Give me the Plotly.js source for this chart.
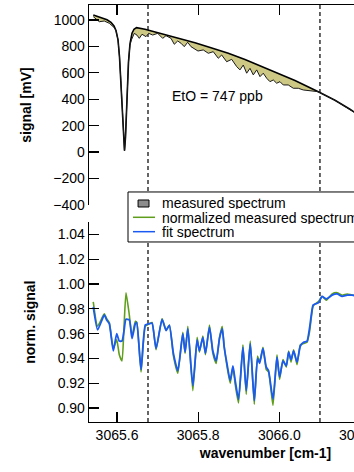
<!DOCTYPE html>
<html><head><meta charset="utf-8">
<script src="https://cdn.plot.ly/plotly-3.0.1.min.js"></script>
<style>
html,body{margin:0;padding:0;overflow:hidden;background:#fff;width:354px;height:472px}
#chart{width:452px;height:472px}
</style>
</head><body><div id="chart"></div>
<script>
// ---- top panel: raw signal [mV] ----
const fitBaseX = [3065.5416,3065.5581,3065.5754,3065.5852,3065.5926,3065.5975,3065.6025,3065.6062,3065.6099,3065.6136,3065.6160,3065.6185,3065.6209,3065.6234,3065.6259,3065.6283,3065.6320,3065.6370,3065.6419,3065.6481,3065.6690,3065.7060,3065.7479,3065.7922,3065.8316,3065.8743,3065.9154,3065.9566,3065.9967,3066.0386,3066.0961,3066.1372,3066.1742,3066.2111];
const fitBaseY = [1038,1022,1002,982,955,920,850,720,520,300,130,10,110,300,500,680,820,900,930,942,930,900,862,828,790,748,700,647,596,541,457,392,324,250];

const measX = [3065.5416,3065.5483,3065.5564,3065.5687,3065.5810,3065.5933,3065.5975,3065.6025,3065.6062,3065.6099,3065.6136,3065.6160,3065.6185,3065.6209,3065.6234,3065.6259,3065.6283,3065.6320,3065.6357,3065.6426,3065.6493,3065.6550,3065.6616,3065.6715,3065.6781,3065.6880,3065.7003,3065.7126,3065.7207,3065.7331,3065.7412,3065.7496,3065.7577,3065.7658,3065.7742,3065.7824,3065.7905,3065.7996,3065.8070,3065.8127,3065.8250,3065.8373,3065.8496,3065.8580,3065.8703,3065.8827,3065.8950,3065.9031,3065.9112,3065.9196,3065.9278,3065.9359,3065.9443,3065.9524,3065.9605,3065.9689,3065.9770,3065.9852,3065.9935,3066.0017,3066.0098,3066.0221,3066.0345,3066.0468,3066.0591,3066.0714,3066.0837,3066.0961,3066.1372,3066.1742,3066.2111];
const measY = [1025,1010,987,992,975,942,920,850,720,520,300,130,10,110,300,500,680,810,850,899,885,861,892,874,899,886,899,861,881,861,816,841,824,798,831,798,780,765,770,773,748,760,710,735,684,702,647,622,659,597,634,584,622,571,597,559,533,546,521,533,508,508,483,483,470,465,465,457,392,324,250];

// ---- bottom panel: normalized signal ----
const normX = [3065.5415,3065.5523,3065.5686,3065.5746,3065.5810,3065.5909,3065.5993,3065.6057,3065.6123,3065.6172,3065.6222,3065.6304,3065.6370,3065.6452,3065.6487,3065.6593,3065.6699,3065.6798,3065.6864,3065.6963,3065.7111,3065.7210,3065.7291,3065.7390,3065.7499,3065.7622,3065.7679,3065.7746,3065.7869,3065.7975,3065.8032,3065.8116,3065.8180,3065.8279,3065.8363,3065.8444,3065.8526,3065.8593,3065.8642,3065.8709,3065.8790,3065.8857,3065.8914,3065.8995,3065.9104,3065.9185,3065.9284,3065.9383,3065.9464,3065.9514,3065.9598,3065.9679,3065.9736,3065.9844,3065.9943,3066.0007,3066.0091,3066.0173,3066.0230,3066.0289,3066.0353,3066.0437,3066.0519,3066.0600,3066.0684,3066.0748,3066.0832,3066.0889,3066.0970,3066.1054,3066.1160,3066.1301,3066.1425,3066.1548,3066.1672,3066.1795,3066.1950];
const normMeasured = [0.9856,0.966,0.976,0.972,0.969,0.948,0.955,0.943,0.938,0.965,0.993,0.975,0.958,0.970,0.969,0.929,0.966,0.968,0.969,0.947,0.972,0.963,0.967,0.942,0.928,0.961,0.944,0.966,0.914,0.957,0.945,0.958,0.943,0.967,0.944,0.936,0.957,0.966,0.950,0.934,0.920,0.933,0.919,0.904,0.951,0.911,0.954,0.903,0.942,0.937,0.949,0.931,0.929,0.902,0.943,0.923,0.939,0.933,0.946,0.937,0.947,0.935,0.951,0.952,0.953,0.962,0.982,0.984,0.986,0.990,0.987,0.992,0.993,0.991,0.992,0.991,0.991];
const fitSpectrum = [0.9815,0.963,0.975,0.971,0.968,0.946,0.960,0.954,0.954,0.962,0.9715,0.971,0.956,0.968,0.969,0.931,0.967,0.968,0.9685,0.948,0.9715,0.9625,0.9667,0.944,0.930,0.960,0.945,0.964,0.918,0.955,0.946,0.957,0.944,0.9653,0.946,0.938,0.956,0.964,0.949,0.936,0.922,0.934,0.922,0.907,0.949,0.914,0.952,0.906,0.940,0.936,0.948,0.933,0.930,0.907,0.941,0.925,0.938,0.934,0.945,0.939,0.946,0.937,0.950,0.953,0.954,0.965,0.983,0.984,0.985,0.990,0.988,0.991,0.992,0.990,0.991,0.991,0.990];

const markerLines = [3065.6764, 3066.1002];
const legendLabels = ['measured spectrum','normalized measured spectrum','fit spectrum'];
const concLabel = 'EtO = 747 ppb';

const FONT = 'Liberation Sans, Arial, Helvetica, sans-serif';
const traces = [
  {x: fitBaseX, y: fitBaseY, xaxis:'x2', yaxis:'y2', mode:'lines', name:'fit',
   line:{color:'#000', width:1.6}, showlegend:false, hoverinfo:'skip'},
  {x: measX, y: measY, xaxis:'x2', yaxis:'y2', mode:'lines', name:legendLabels[0],
   fill:'tonexty', fillcolor:'#cdc985', line:{color:'#1a1a1a', width:1}, showlegend:false},
  {x: normX, y: normMeasured, xaxis:'x', yaxis:'y', mode:'lines', name:legendLabels[1],
   line:{color:'#5e9e1a', width:1.6, shape:'spline', smoothing:0.5}, showlegend:false},
  {x: normX, y: fitSpectrum, xaxis:'x', yaxis:'y', mode:'lines', name:legendLabels[2],
   line:{color:'#1a5af2', width:1.8, shape:'spline', smoothing:0.5}, showlegend:false}
];

const axBase = {showline:true, linecolor:'#000', linewidth:1.3, ticks:'inside', ticklen:10,
  tickwidth:1.3, tickcolor:'#000', showgrid:false, zeroline:false,
  tickfont:{family:FONT, size:14, color:'#000'}};

const shapes = [];
markerLines.forEach(v => shapes.push({type:'line', xref:'x', yref:'paper', x0:v, x1:v, y0:0, y1:1,
  line:{color:'#333', width:1.5, dash:'4px,3px'}, layer:'below'}));
// legend box
shapes.push({type:'rect', xref:'paper', yref:'paper', x0:0.1105, x1:0.79, y0:0.4317, y1:0.5516,
  fillcolor:'#fff', line:{color:'#000', width:1}, layer:'above'});
shapes.push({type:'rect', xref:'paper', yref:'paper', x0:0.139, x1:0.170, y0:0.5156, y1:0.5324,
  fillcolor:'#8c8c8c', line:{color:'#000', width:1}, layer:'above'});
shapes.push({type:'line', xref:'paper', yref:'paper', x0:0.1246, x1:0.187, y0:0.4909, y1:0.4909,
  line:{color:'#5e9e1a', width:1.5}, layer:'above'});
shapes.push({type:'line', xref:'paper', yref:'paper', x0:0.1246, x1:0.187, y0:0.4564, y1:0.4564,
  line:{color:'#1a5af2', width:1.5}, layer:'above'});

const legY = [0.5252, 0.4916, 0.458];
const annotations = legendLabels.map((t,i) => ({xref:'paper', yref:'paper', x:0.204, y:legY[i],
  xanchor:'left', yanchor:'middle', height:13, borderpad:0, text:t, showarrow:false,
  font:{family:FONT, size:14, color:'#000'}}));
annotations.push({xref:'x2', yref:'y2', x:3065.7306, y:425, xanchor:'left', yanchor:'middle',
  text:concLabel, showarrow:false, font:{family:FONT, size:14, color:'#000'}});

const layout = {
  width:452, height:472, margin:{l:89, r:10, t:5, b:50},
  paper_bgcolor:'#fff', plot_bgcolor:'rgba(0,0,0,0)', showlegend:false,
  font:{family:FONT, size:14, color:'#000'},
  xaxis: Object.assign({}, axBase, {domain:[0,1], anchor:'y', range:[3065.531, 3066.401],
    tick0:3065.6, dtick:0.2, tickformat:'.1f',
    title:{text:'<b>wavenumber [cm-1]</b>', font:{family:FONT, size:14, color:'#000'}, standoff:6}}),
  xaxis2: Object.assign({}, axBase, {matches:'x', anchor:'y2', side:'top', range:[3065.531, 3066.401],
    tick0:3065.6, dtick:0.2, showticklabels:false}),
  yaxis: Object.assign({}, axBase, {domain:[0,0.4789], anchor:'x', range:[0.8887, 1.0498],
    tick0:0.9, dtick:0.02, tickformat:'.2f',
    title:{text:'<b>norm. signal</b>', font:{family:FONT, size:14, color:'#000'}, standoff:18}}),
  yaxis2: Object.assign({}, axBase, {domain:[0.5204,1], anchor:'x2', range:[-401, 1113.5],
    tick0:0, dtick:200,
    title:{text:'<b>signal [mV]</b>', font:{family:FONT, size:14, color:'#000'}, standoff:18}}),
  shapes: shapes, annotations: annotations
};

Plotly.newPlot('chart', traces, layout, {displayModeBar:false, staticPlot:true});
</script></body></html>
